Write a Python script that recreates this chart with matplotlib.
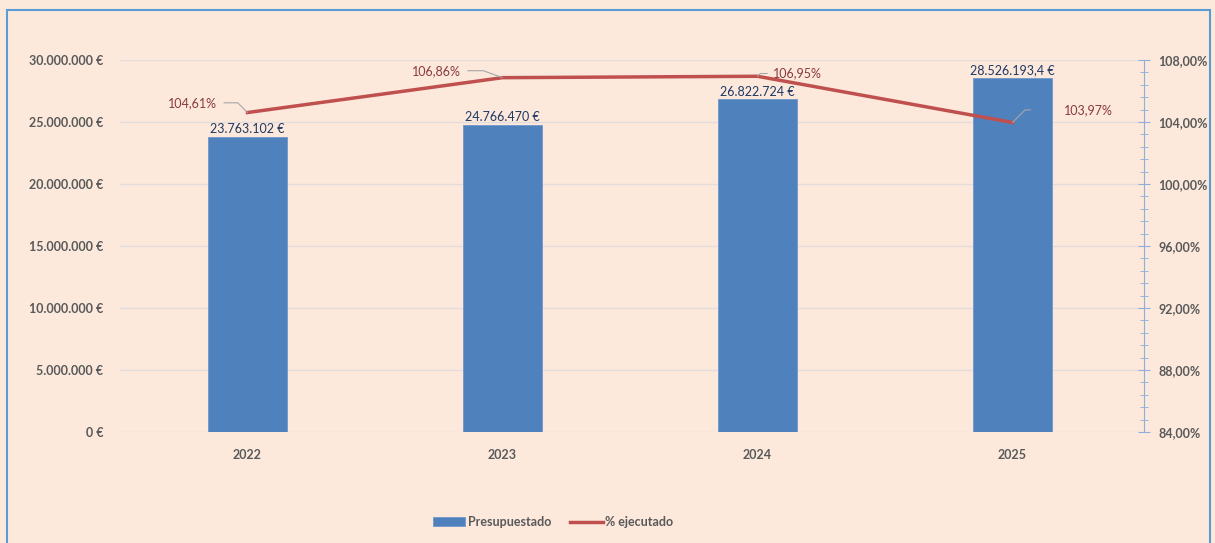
import matplotlib
matplotlib.use("Agg")
import matplotlib.pyplot as plt
from matplotlib.patches import Rectangle
from matplotlib.ticker import FuncFormatter, MultipleLocator

years = ["2022", "2023", "2024", "2025"]
presupuestado = [23763102, 24766470, 26822724, 28526193.4]
bar_labels = ["23.763.102 €", "24.766.470 €", "26.822.724 €", "28.526.193,4 €"]
ejecutado = [104.61, 106.86, 106.95, 103.97]
pct_labels = ["104,61%", "106,86%", "106,95%", "103,97%"]

plt.rcParams['font.family'] = ['Lato', 'DejaVu Sans']
bg = "#FCE9DC"
W, H = 1215, 543
fig = plt.figure(figsize=(W / 100, H / 100), dpi=100, facecolor=bg)
fig.patches.append(Rectangle((7 / W, -0.05), (1210 - 7) / W, 1.05 - 10 / H,
                             transform=fig.transFigure, fill=False,
                             edgecolor="#5B9BD5", linewidth=1.5))

left, right, top, bottom = 120, 1140, 60, 432
ax = fig.add_axes([left / W, 1 - bottom / H, (right - left) / W, (bottom - top) / H])
ax.set_facecolor("none")
x = list(range(len(years)))
bars = ax.bar(x, presupuestado, width=0.31, color="#4F81BD", edgecolor="#6F97CB",
              linewidth=0.6, zorder=2, label="Presupuestado")
ax.set_xlim(-0.5, 3.5)
ax.set_ylim(0, 30000000)
ax.set_yticks(range(0, 30000001, 5000000))

def eur(v, p):
    return f"{int(v):,}".replace(",", ".") + " €"

ax.yaxis.set_major_formatter(FuncFormatter(eur))
ax.set_xticks(x)
ax.set_xticklabels(years)
ax.grid(axis="y", color="#E3DCDA", linewidth=1, zorder=0)
for s in ax.spines.values():
    s.set_visible(False)
ax.tick_params(axis="both", length=0, labelsize=9, labelcolor="#595959")
ax.tick_params(axis="y", pad=12)
ax.tick_params(axis="x", pad=12)
for lbl in ax.get_yticklabels() + ax.get_xticklabels():
    lbl.set_fontweight("bold")

for xi, v, t in zip(x, presupuestado, bar_labels):
    ax.text(xi, v + 150000, t, ha="center", va="bottom", fontsize=9, color="#1F3864")

ax2 = ax.twinx()
ax2.set_ylim(84, 108)
ax2.set_yticks([84, 88, 92, 96, 100, 104, 108])
ax2.yaxis.set_minor_locator(MultipleLocator(0.8))
ax2.yaxis.set_major_formatter(FuncFormatter(lambda v, p: f"{v:.2f}".replace(".", ",") + "%"))
for s in ["top", "left", "bottom"]:
    ax2.spines[s].set_visible(False)
ax2.spines["right"].set_position(("outward", 3))
ax2.spines["right"].set_color("#8EAEDB")
ax2.tick_params(axis="y", which="major", direction="inout", length=8, color="#8EAEDB",
                labelsize=9, labelcolor="#595959", pad=6)
ax2.tick_params(axis="y", which="minor", direction="inout", length=6, color="#8EAEDB")
for lbl in ax2.get_yticklabels():
    lbl.set_fontweight("bold")
line, = ax2.plot(x, ejecutado, color="#C0504D", linewidth=2.5, zorder=3, label="% ejecutado")

# percentage labels with leader lines (offsets in points)
offs = [(-22, 7), (-30, 5), (11, 2), (37, 9)]
has = ["right", "right", "left", "left"]
shrinks = [3, 3, 2, 22]
angB = [135, 160, 45, 45]
for xi, v, t, (dx, dy), ha, sh, ab in zip(x, ejecutado, pct_labels, offs, has, shrinks, angB):
    ax2.annotate(t, xy=(xi, v), xytext=(dx, dy), textcoords="offset points",
                 ha=ha, va="center", fontsize=9, color="#8B3A3A",
                 arrowprops=dict(arrowstyle="-", color="#A6A6A6", lw=0.8,
                                 shrinkA=sh, shrinkB=0,
                                 connectionstyle=f"angle,angleA=0,angleB={ab},rad=0"))

handles = [bars, line]
fig.legend(handles, ["Presupuestado", "% ejecutado"], loc="center",
           bbox_to_anchor=(553 / W, 1 - 522 / H), ncol=2, frameon=False,
           labelcolor="#595959", handlelength=2.6, handletextpad=0.2,
           columnspacing=1.5, prop={"weight": "bold", "size": 9})

fig.savefig("out.png", dpi=100, facecolor=bg)
